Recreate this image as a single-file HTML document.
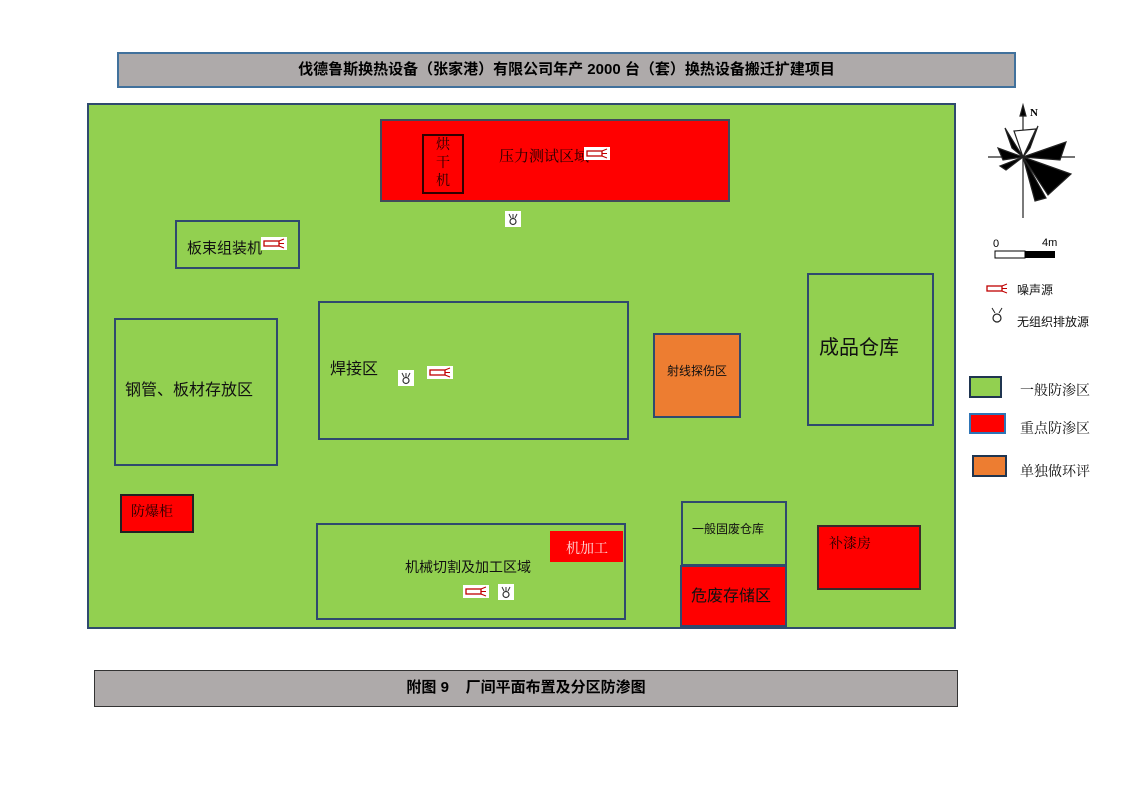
<!DOCTYPE html>
<html><head><meta charset="utf-8"><style>
body{margin:0;width:1122px;height:793px;background:#fff;position:relative;overflow:hidden;font-family:"Liberation Sans","Noto Sans CJK SC",sans-serif;}
.a{position:absolute;box-sizing:border-box;}
.g{border:2px solid #2f4a6e;background:#92d050;}
.s{font-family:"Liberation Serif","Noto Serif CJK SC",serif;}
.t{position:absolute;white-space:nowrap;color:#111;}
</style></head><body>
<div class="a" style="left:117px;top:52px;width:899px;height:36px;background:#aeaaaa;border:2px solid #41719c;font-weight:bold;font-size:15px;text-align:center;line-height:32px;">伐德鲁斯换热设备（张家港）有限公司年产 2000 台（套）换热设备搬迁扩建项目</div>

<div class="a" style="left:87px;top:103px;width:869px;height:526px;background:#92d050;border:2px solid #2f4a6e;"></div>

<div class="a" style="left:380px;top:119px;width:350px;height:83px;background:#ff0000;border:2px solid #404a5a;"></div>
<div class="a" style="left:422px;top:134px;width:42px;height:60px;border:2px solid #300;"></div>
<div class="t s" style="left:436px;top:137px;font-size:14px;line-height:18px;color:#200;width:16px;white-space:normal;">烘干机</div>
<div class="t s" style="left:499px;top:145px;font-size:15px;color:#200;">压力测试区域</div>

<div class="a g" style="left:175px;top:220px;width:125px;height:49px;"></div>
<div class="t" style="left:187px;top:237px;font-size:15px;">板束组装机</div>

<div class="a g" style="left:114px;top:318px;width:164px;height:148px;"></div>
<div class="t" style="left:125px;top:376px;font-size:16px;">钢管、板材存放区</div>

<div class="a g" style="left:318px;top:301px;width:311px;height:139px;"></div>
<div class="t" style="left:330px;top:355px;font-size:16px;">焊接区</div>

<div class="a" style="left:653px;top:333px;width:88px;height:85px;background:#ed7d31;border:2px solid #2f4a6e;"></div>
<div class="t" style="left:667px;top:362px;font-size:12px;">射线探伤区</div>

<div class="a g" style="left:807px;top:273px;width:127px;height:153px;"></div>
<div class="t" style="left:819px;top:331px;font-size:20px;">成品仓库</div>

<div class="a" style="left:120px;top:494px;width:74px;height:39px;background:#ff0000;border:2px solid #222;"></div>
<div class="t s" style="left:131px;top:501px;font-size:14px;color:#200;">防爆柜</div>

<div class="a g" style="left:316px;top:523px;width:310px;height:97px;"></div>
<div class="t" style="left:405px;top:557px;font-size:14px;">机械切割及加工区域</div>
<div class="a" style="left:550px;top:531px;width:73px;height:31px;background:#ff0000;"></div>
<div class="t s" style="left:566px;top:538px;font-size:14px;color:#fdd;">机加工</div>

<div class="a g" style="left:681px;top:501px;width:106px;height:65px;"></div>
<div class="t" style="left:692px;top:520px;font-size:12px;">一般固废仓库</div>
<div class="a" style="left:680px;top:565px;width:107px;height:62px;background:#ff0000;border:2px solid #2f4a6e;"></div>
<div class="t" style="left:691px;top:582px;font-size:16px;">危废存储区</div>

<div class="a" style="left:817px;top:525px;width:104px;height:65px;background:#ff0000;border:2px solid #3a2a2a;"></div>
<div class="t s" style="left:829px;top:533px;font-size:14px;color:#200;">补漆房</div>

<svg width="0" height="0" style="position:absolute"><defs>
<g id="n"><rect x="0" y="0" width="26" height="13" fill="#fff"/><rect x="3" y="4" width="15" height="5" fill="none" stroke="#c00000" stroke-width="1.3"/><path d="M18 4L23 2M18 6.5H23M18 9L23 11" stroke="#c00000" stroke-width="1"/></g>
<g id="e"><rect x="0" y="0" width="16" height="16" fill="#fff"/><circle cx="8" cy="10.5" r="3" fill="none" stroke="#333" stroke-width="1.2"/><path d="M4 3L6 7M8 3V7M12 3L10 7" stroke="#333" stroke-width="1"/></g>
</defs></svg>
<svg class="a" style="left:0;top:0" width="1122" height="793">
<use href="#n" x="584" y="147"/>
<use href="#e" x="505" y="211"/>
<use href="#n" x="261" y="237"/>
<use href="#e" x="398" y="370"/>
<use href="#n" x="427" y="366"/>
<use href="#n" x="463" y="585"/>
<use href="#e" x="498" y="584"/>
<g stroke="#222" stroke-width="1.2" fill="#000">
<line x1="1023" y1="110" x2="1023" y2="218"/>
<line x1="988" y1="157" x2="1075" y2="157"/>
<path d="M1023 105L1020 116H1026Z"/>
<path d="M1023 157L1005 128L1012 148Z"/>
<path d="M1023 157L1038 126L1030 148Z"/>
<path d="M1023 157L1066 142L1060 160Z"/>
<path d="M1023 157L1071 174L1048 195Z"/>
<path d="M1023 157L1046 198L1035 201Z"/>
<path d="M1023 157L998 148L1003 160Z"/>
<path d="M1023 157L1000 166L1006 170Z"/>
<path d="M1023 157L1014 131L1036 129Z" fill="#fff"/>
</g>
<text x="1030" y="116" font-size="11" font-weight="bold" font-family="Liberation Serif">N</text>
<text x="993" y="247" font-size="11">0</text>
<text x="1042" y="246" font-size="11">4m</text>
<rect x="995" y="251" width="30" height="7" fill="#fff" stroke="#000"/>
<rect x="1025" y="251" width="30" height="7" fill="#000"/>
<g transform="translate(985,284)"><rect x="2" y="2" width="15" height="5" fill="none" stroke="#c00000" stroke-width="1.3"/><path d="M17 2L22 0M17 4.5H22M17 7L22 9" stroke="#c00000"/></g>
<g transform="translate(989,306)"><circle cx="8" cy="12" r="4" fill="none" stroke="#222" stroke-width="1.2"/><path d="M3 2L6 7M13 2L10 7" stroke="#222"/></g>
<rect x="970" y="377" width="31" height="20" fill="#92d050" stroke="#1f3550" stroke-width="2"/>
<rect x="970" y="414" width="35" height="19" fill="#ff0000" stroke="#2e75b6" stroke-width="2"/>
<rect x="973" y="456" width="33" height="20" fill="#ed7d31" stroke="#1f3550" stroke-width="2"/>
</svg>
<div class="t" style="left:1017px;top:281px;font-size:12px;">噪声源</div>
<div class="t" style="left:1017px;top:313px;font-size:12px;">无组织排放源</div>
<div class="t s" style="left:1020px;top:380px;font-size:14px;">一般防渗区</div>
<div class="t s" style="left:1020px;top:418px;font-size:14px;">重点防渗区</div>
<div class="t s" style="left:1020px;top:461px;font-size:14px;">单独做环评</div>

<div class="a" style="left:94px;top:670px;width:864px;height:37px;background:#aeaaaa;border:1.5px solid #333;font-weight:bold;font-size:15px;text-align:center;line-height:34px;">附图 9&nbsp;&nbsp;&nbsp;&nbsp;厂间平面布置及分区防渗图</div>
</body></html>
